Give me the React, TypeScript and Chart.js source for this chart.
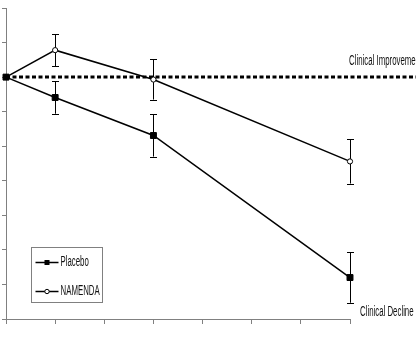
import React, { useEffect, useRef } from "react";
import { Chart, registerables } from "chart.js";

Chart.register(...registerables);

// Study weeks and mean change from baseline (with standard error)
const weeks = [0, 4, 12, 28];
const placeboMean = [0, -0.59, -1.69, -5.8];
const placeboErr = [0, 0.47, 0.61, 0.73];
const namendaMean = [0, 0.78, -0.07, -2.44];
const namendaErr = [0, 0.46, 0.58, 0.64];
const seriesLabels = ["Placebo", "NAMENDA"];
const improvementLabel = "Clinical Improvement";
const declineLabel = "Clinical Decline";

const AXIS_COLOR = "#808080";
const TEXT_COLOR = "#111";
const FONT = "14px 'Liberation Sans', Arial, sans-serif";
const SQUEEZE = 0.56;

function narrowText(ctx: CanvasRenderingContext2D, text: string, x: number, y: number) {
  ctx.save();
  ctx.translate(x, y);
  ctx.scale(SQUEEZE, 1);
  ctx.font = FONT;
  ctx.fillStyle = TEXT_COLOR;
  ctx.textBaseline = "middle";
  ctx.textAlign = "left";
  ctx.fillText(text, 0, 0);
  ctx.restore();
}

const errorBars = {
  id: "errorBars",
  beforeDatasetsDraw(chart: any) {
    const { ctx, scales } = chart;
    const x = scales.x;
    const y = scales.y;
    const errs = [placeboErr, namendaErr];
    ctx.save();
    ctx.strokeStyle = "#000";
    ctx.lineWidth = 1;
    chart.data.datasets.forEach((ds: any, i: number) => {
      ds.data.forEach((p: any, j: number) => {
        const e = errs[i][j];
        if (!e) return;
        const px = Math.round(x.getPixelForValue(p.x)) + 0.5;
        const top = y.getPixelForValue(p.y + e);
        const bot = y.getPixelForValue(p.y - e);
        ctx.beginPath();
        ctx.moveTo(px, top);
        ctx.lineTo(px, bot);
        ctx.moveTo(px - 3.5, Math.round(top) + 0.5);
        ctx.lineTo(px + 3.5, Math.round(top) + 0.5);
        ctx.moveTo(px - 3.5, Math.round(bot) + 0.5);
        ctx.lineTo(px + 3.5, Math.round(bot) + 0.5);
        ctx.stroke();
      });
    });
    ctx.restore();
  },
};

const baselineAndNotes = {
  id: "baselineAndNotes",
  beforeDatasetsDraw(chart: any) {
    const { ctx, chartArea, scales } = chart;
    const y0 = scales.y.getPixelForValue(0);
    ctx.save();
    ctx.strokeStyle = "#000";
    ctx.lineWidth = 3;
    ctx.setLineDash([4, 2.5]);
    ctx.beginPath();
    ctx.moveTo(chartArea.left, y0);
    ctx.lineTo(chart.width, y0);
    ctx.stroke();
    ctx.restore();
    narrowText(ctx, improvementLabel, chartArea.right - 1, y0 - 16);
    narrowText(ctx, declineLabel, chartArea.right + 10, chartArea.bottom - 7);
  },
};

const boxLegend = {
  id: "boxLegend",
  afterDatasetsDraw(chart: any) {
    const { ctx, chartArea } = chart;
    const bx = chartArea.left + 25.5;
    const by = chartArea.top + 239.5;
    const bw = 71;
    const bh = 55;
    ctx.save();
    ctx.fillStyle = "#fff";
    ctx.fillRect(bx, by, bw, bh);
    ctx.strokeStyle = AXIS_COLOR;
    ctx.lineWidth = 1;
    ctx.strokeRect(bx, by, bw, bh);
    const rows = [by + 15, by + 44];
    chart.data.datasets.forEach((ds: any, i: number) => {
      const ry = rows[i];
      ctx.strokeStyle = "#000";
      ctx.lineWidth = 1.5;
      ctx.beginPath();
      ctx.moveTo(bx + 4, ry);
      ctx.lineTo(bx + 27, ry);
      ctx.stroke();
      const cx = bx + 15.5;
      if (ds.pointStyle === "rect") {
        ctx.fillStyle = "#000";
        ctx.fillRect(cx - 2.5, ry - 2.5, 5, 5);
      } else {
        ctx.fillStyle = "#fff";
        ctx.lineWidth = 1;
        ctx.beginPath();
        ctx.arc(cx, ry, 2.2, 0, Math.PI * 2);
        ctx.fill();
        ctx.stroke();
      }
      narrowText(ctx, ds.label, bx + 29, ry);
    });
    ctx.restore();
  },
};

export default function App() {
  const ref = useRef<HTMLCanvasElement>(null);

  useEffect(() => {
    if (!ref.current) return;
    const toPoints = (m: number[]) => weeks.map((w, i) => ({ x: w, y: m[i] }));
    const chart = new Chart(ref.current, {
      type: "line",
      data: {
        datasets: [
          {
            label: seriesLabels[0],
            data: toPoints(placeboMean),
            borderColor: "#000",
            borderWidth: 1.5,
            pointStyle: "rect",
            pointRadius: 4.2,
            pointBackgroundColor: "#000",
            pointBorderColor: "#000",
            pointBorderWidth: 1,
            clip: false,
          },
          {
            label: seriesLabels[1],
            data: toPoints(namendaMean),
            borderColor: "#000",
            borderWidth: 1.5,
            pointStyle: "circle",
            pointRadius: 2.6,
            pointBackgroundColor: "#fff",
            pointBorderColor: "#000",
            pointBorderWidth: 1,
            clip: false,
          },
        ],
      },
      options: {
        responsive: false,
        animation: false,
        events: [],
        layout: { padding: { top: 8, right: 66, left: 0, bottom: 0 } },
        plugins: { legend: { display: false }, tooltip: { enabled: false } },
        scales: {
          x: {
            type: "linear",
            min: 0,
            max: 28,
            ticks: { display: false, stepSize: 4 },
            grid: { drawOnChartArea: false, drawTicks: true, tickLength: 5, color: AXIS_COLOR },
            border: { color: AXIS_COLOR, width: 1 },
            afterFit: (s: any) => {
              s.height = 19;
            },
          },
          y: {
            min: -7,
            max: 2,
            ticks: { display: false, stepSize: 1 },
            grid: { drawOnChartArea: false, drawTicks: true, tickLength: 4, color: AXIS_COLOR },
            border: { color: AXIS_COLOR, width: 1 },
            afterFit: (s: any) => {
              s.width = 6;
            },
          },
        },
      },
      plugins: [baselineAndNotes, errorBars, boxLegend],
    });
    return () => chart.destroy();
  }, []);

  return (
    <div style={{ position: "absolute", left: 0, top: 0, width: 416, height: 338, background: "#fff" }}>
      <canvas ref={ref} width={416} height={338} style={{ display: "block" }} />
    </div>
  );
}
